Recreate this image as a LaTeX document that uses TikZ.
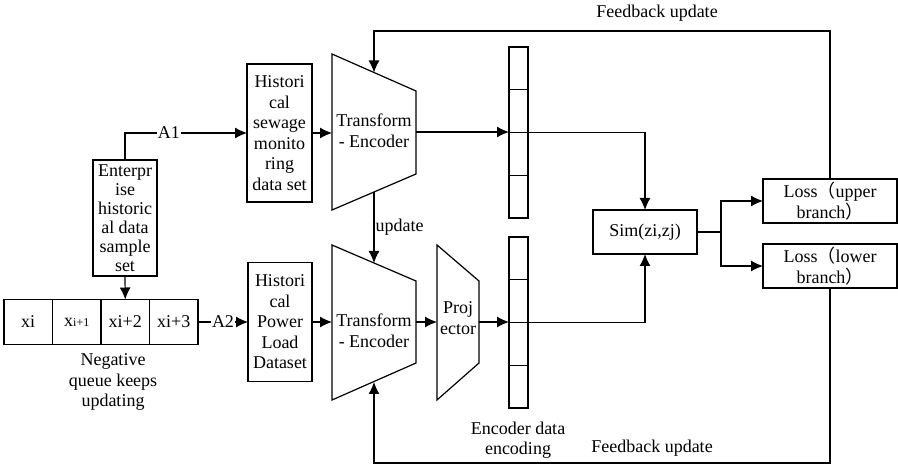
\documentclass[tikz,border=0pt]{standalone}
\usepackage{fontspec}
\setmainfont{Liberation Serif}
\newfontfamily\cjk{Noto Sans CJK SC}
\usetikzlibrary{positioning,arrows.meta}
\tikzset{
  box/.style={draw, align=center, inner sep=0pt, outer sep=0pt},
  qcell/.style={draw, minimum width=48.5pt, minimum height=45pt, inner sep=0pt, outer sep=0pt},
  cell/.style={draw, minimum width=19pt, minimum height=42.75pt, inner sep=0pt, outer sep=0pt},
  lbl/.style={align=center, inner sep=1pt},
  tag/.style={fill=white, inner sep=1pt},
  flow/.style={->},
  encoder/.style={draw, line join=miter}
}

\begin{document}
\begin{tikzpicture}[x=1pt, y=-1pt, line width=1.2pt,
  font=\fontsize{18}{20.5}\selectfont,
  >={Latex[length=12pt,width=11pt]}]
  \useasboundingbox (0,0) rectangle (898,465);

  \node[box, minimum width=64pt, minimum height=116pt, font=\fontsize{18}{19}\selectfont] (ent) at (125,218)
    {Enterpr\\ise\\historic\\al data\\sample\\set};
  \node[qcell] (q1) at (28.25,322) {xi};
  \node[qcell, right=0pt of q1] (q2) {x{\fontsize{12}{12}\selectfont i+1}};
  \node[qcell, right=0pt of q2] (q3) {xi+2};
  \node[qcell, right=0pt of q3] (q4) {xi+3};
  \node[lbl] (neg) at (113,382) {Negative\\queue keeps\\updating};

  \node[box, minimum width=65pt, minimum height=138pt] (sew) at (279.5,133)
    {Histori\\cal\\sewage\\monito\\ring\\data set};
  \node[box, minimum width=64pt, minimum height=119pt] (pow) at (280,322)
    {Histori\\cal\\Power\\Load\\Dataset};

  \draw[encoder] (332,54) -- (416,91) -- (416,174) -- (332,210) -- cycle;
  \coordinate (encA-in) at (332,133);
  \coordinate (encA-out) at (416,132);
  \coordinate (encA-top) at (374,72.5);
  \coordinate (encA-bot) at (374,192);
  \node[lbl] (encA) at (374,131) {Transform\\- Encoder};

  \draw[encoder] (332,245) -- (416,281) -- (416,363) -- (332,400) -- cycle;
  \coordinate (encB-in) at (332,322);
  \coordinate (encB-out) at (416,322);
  \coordinate (encB-top) at (374,263);
  \coordinate (encB-bot) at (374,382);
  \node[lbl] (encB) at (374,331) {Transform\\- Encoder};

  \draw[encoder] (437,245) -- (479,281) -- (479,363) -- (437,400) -- cycle;
  \coordinate (proj-in) at (437,322);
  \coordinate (proj-out) at (479,322);
  \node[lbl] (proj) at (458,318) {Proj\\ector};

  \node[cell] (u1) at (518.5,68.4) {};
  \node[cell, below=0pt of u1] (u2) {};
  \node[cell, below=0pt of u2] (u3) {};
  \node[cell, below=0pt of u3] (u4) {};

  \node[cell] (l1) at (518.5,258.4) {};
  \node[cell, below=0pt of l1] (l2) {};
  \node[cell, below=0pt of l2] (l3) {};
  \node[cell, below=0pt of l3] (l4) {};
  \node[lbl] (enclbl) at (518,440) {Encoder data\\encoding};

  \node[box, minimum width=104pt, minimum height=44pt] (sim) at (645,232) {Sim(zi,zj)};
  \node[box, minimum width=134pt, minimum height=44pt] (lossU) at (830,201)
    {Loss{\cjk （}upper\\branch{\cjk ）}};
  \node[box, minimum width=134pt, minimum height=44pt] (lossL) at (830,266)
    {Loss{\cjk （}lower\\branch{\cjk ）}};

  \draw[flow] (ent.north) |- (sew.west) node[tag, pos=0.68] {A1};
  \draw[flow] (ent.south) -- (q3.north);
  \draw[flow] (q4.east) -- (pow.west) node[tag, midway] {A2};
  \draw[flow] (sew.east) -- (encA-in);
  \draw[flow] (pow.east) -- (encB-in);
  \draw[flow] (encA-out) -- (encA-out -| u2.west);
  \draw[flow] (encB-out) -- (proj-in);
  \draw[flow] (proj-out) -- (proj-out -| l2.west);
  \draw[flow] (encA-bot) -- (encB-top) node[lbl, anchor=west, pos=0.5] {update};

  \draw[flow] (u2.south east) -| (sim.north);
  \draw[flow] (l2.south east) -| (sim.south);
  \draw (sim.east) -- ++(24,0) coordinate (split);
  \draw[flow] (split) |- (lossU.west);
  \draw[flow] (split) |- (lossL.west);

  \draw[flow] (lossU.north) |- (374,31) coordinate (fbA) -- (encA-top);
  \node[lbl] (fbAlbl) at (657,13) {Feedback update};
  \draw[flow] (lossL.south) |- (374,463) coordinate (fbB) -- (encB-bot);
  \node[lbl] (fbBlbl) at (652,448) {Feedback update};
\end{tikzpicture}
\end{document}
